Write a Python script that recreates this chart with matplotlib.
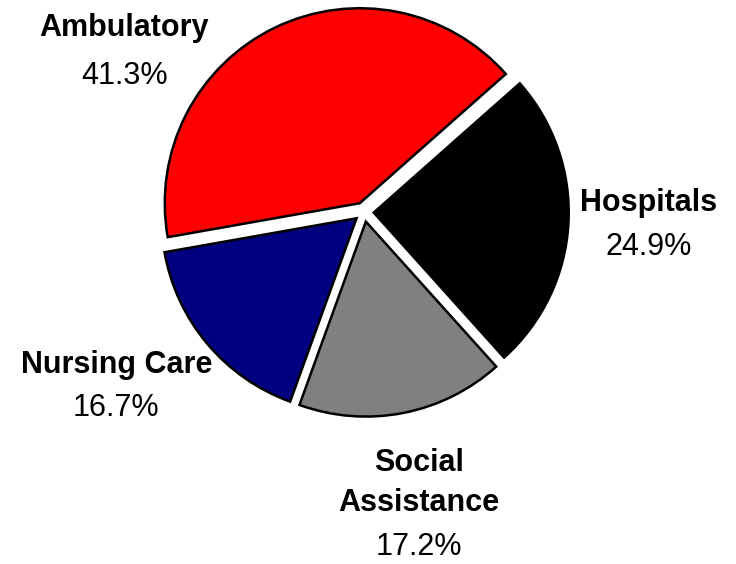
import matplotlib.pyplot as plt
from matplotlib import font_manager

sectors = ['Ambulatory', 'Nursing Care', 'Social\nAssistance', 'Hospitals']
shares = [41.3, 16.7, 17.2, 24.9]
colors = ['#ff0000', '#000080', '#808080', '#000000']

# pick a condensed face if one is around
names = {f.name for f in font_manager.fontManager.ttflist}
family = 'Liberation Sans Narrow' if 'Liberation Sans Narrow' in names else 'Liberation Sans'
plt.rcParams['font.family'] = family

fig = plt.figure(figsize=(7.36, 5.64), dpi=100)
ax = fig.add_axes([0, 0, 1, 1])

ax.pie(shares, colors=colors, startangle=41.5, counterclock=True,
       explode=[0.05] * len(shares), radius=1.0,
       wedgeprops=dict(edgecolor='black', linewidth=1.8))

# label anchors in pie units: (x, y of name, y of percentage)
label_pos = {
    'Ambulatory': (-1.23, 0.945, 0.70),
    'Nursing Care': (-1.27, -0.785, -1.005),
    'Social\nAssistance': (0.28, -1.39, -1.72),
    'Hospitals': (1.46, 0.046, -0.18),
}
for name, val in zip(sectors, shares):
    x, yn, yp = label_pos[name]
    ax.text(x, yn, name, ha='center', va='center', fontsize=22,
            fontweight='bold', linespacing=1.4)
    ax.text(x, yp, f'{val}%', ha='center', va='center', fontsize=22)

ax.set_xlim(-364 / 195, (736 - 364) / 195)
ax.set_ylim((212 - 564) / 195, 212 / 195)
ax.axis('off')

fig.savefig('out.png', dpi=100)
